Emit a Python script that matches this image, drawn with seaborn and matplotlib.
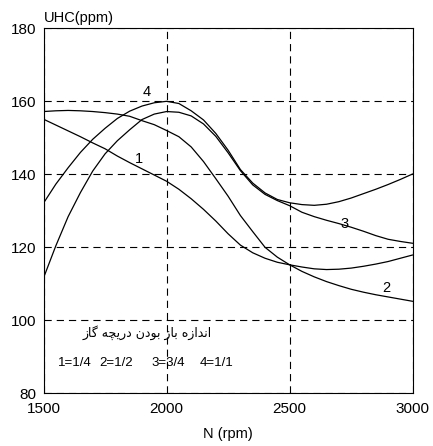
import numpy as np
import pandas as pd
import matplotlib
matplotlib.use("Agg")
import matplotlib.pyplot as plt
import seaborn as sns

# ---- data ----
rpm = [1500, 1550, 1600, 1650, 1700, 1750, 1800, 1850, 1900, 1950, 2000,
       2050, 2100, 2150, 2200, 2250, 2300, 2350, 2400, 2450, 2500,
       2550, 2600, 2650, 2700, 2750, 2800, 2850, 2900, 2950, 3000]

uhc_1 = [155.1, 153.5, 151.9, 150.3, 148.6, 147.0, 145.0, 143.2, 141.5, 139.8, 138.1,
         135.9, 133.3, 130.4, 127.2, 123.7, 120.6, 118.5, 117.0, 115.9, 115.2,
         114.6, 114.1, 113.9, 114.0, 114.3, 114.8, 115.4, 116.1, 117.0, 117.9]
uhc_2 = [157.2, 157.4, 157.5, 157.4, 157.2, 156.9, 156.5, 155.9, 154.7, 153.6, 152.0,
         150.3, 147.5, 143.5, 138.8, 134.0, 128.7, 124.3, 120.0, 117.3, 115.2,
         113.4, 111.9, 110.6, 109.5, 108.5, 107.7, 107.0, 106.4, 105.8, 105.2]
uhc_3 = [111.6, 120.4, 128.4, 135.0, 140.9, 145.6, 149.2, 152.2, 155.0, 156.5, 157.2,
         157.0, 156.0, 153.8, 150.4, 145.9, 141.0, 137.1, 134.5, 132.8, 131.4,
         129.6, 128.4, 127.4, 126.5, 125.5, 124.4, 123.2, 122.2, 121.6, 121.1]
uhc_4 = [132.1, 137.3, 141.8, 146.0, 149.6, 152.6, 155.3, 157.3, 158.7, 159.6, 160.0,
         159.4, 157.4, 154.9, 151.2, 146.6, 141.3, 137.6, 134.9, 133.1, 132.2,
         131.7, 131.5, 131.8, 132.5, 133.5, 134.7, 135.9, 137.2, 138.6, 140.1]

curve_names = ["1", "2", "3", "4"]
x_ticks = [1500, 2000, 2500, 3000]
y_ticks = [80, 100, 120, 140, 160, 180]
legend_title = "اندازه باز بودن دریچه گاز"
legend_items = ["1=1/4", "2=1/2", "3=3/4", "4=1/1"]
x_label = "N (rpm)"
y_label = "UHC(ppm)"

# ---- minimal Persian shaping (presentation forms, visual order) ----
FORMS = {
    'ا': (0xFE8D, 0xFE8E, None, None),
    'ب': (0xFE8F, 0xFE90, 0xFE91, 0xFE92),
    'د': (0xFEA9, 0xFEAA, None, None),
    'ر': (0xFEAD, 0xFEAE, None, None),
    'ز': (0xFEAF, 0xFEB0, None, None),
    'و': (0xFEED, 0xFEEE, None, None),
    'ن': (0xFEE5, 0xFEE6, 0xFEE7, 0xFEE8),
    'ه': (0xFEE9, 0xFEEA, 0xFEEB, 0xFEEC),
    'ی': (0xFEF1, 0xFEF2, 0xFEF3, 0xFEF4),
    'چ': (0xFB7A, 0xFB7B, 0xFB7C, 0xFB7D),
    'گ': (0xFB92, 0xFB93, 0xFB94, 0xFB95),
}


def shape_word(word):
    out = []
    for i, ch in enumerate(word):
        f = FORMS[ch]
        prev_j = i > 0 and FORMS[word[i - 1]][2] is not None
        next_j = i < len(word) - 1 and f[2] is not None
        if prev_j and next_j:
            c = f[3]
        elif prev_j:
            c = f[1]
        elif next_j:
            c = f[2]
        else:
            c = f[0]
        out.append(chr(c))
    return "".join(reversed(out))


def shape(text):
    return " ".join(shape_word(w) for w in reversed(text.split()))


# ---- build long-form table ----
frames = []
for name, vals in zip(curve_names, [uhc_1, uhc_2, uhc_3, uhc_4]):
    frames.append(pd.DataFrame({"N": rpm, "UHC": vals, "curve": name}))
df = pd.concat(frames, ignore_index=True)

sns.set_style("white")
plt.rcParams["font.family"] = ["Liberation Sans", "DejaVu Sans"]
plt.rcParams["text.color"] = "black"
plt.rcParams["axes.labelcolor"] = "black"
plt.rcParams["xtick.color"] = "black"
plt.rcParams["ytick.color"] = "black"

fig = plt.figure(figsize=(4.33, 4.46), dpi=100)
ax = fig.add_axes([0.1005, 0.1182, 0.8526, 0.8183])

sns.lineplot(data=df, x="N", y="UHC", hue="curve", palette=["black"] * 4,
             legend=False, linewidth=0.9, ax=ax, zorder=3)

ax.set_xlim(1500, 3000)
ax.set_ylim(80, 180)
ax.set_xticks(x_ticks)
ax.set_yticks(y_ticks)
ax.grid(True, color="black", linestyle=(0, (6.5, 4.5)), linewidth=0.8, zorder=4)
ax.set_axisbelow(False)
for s in ax.spines.values():
    s.set_color("black")
    s.set_linewidth(0.8)
    s.set_visible(True)
ax.tick_params(axis="both", length=0, labelsize=11, colors="black")
ax.tick_params(axis="x", pad=6.5)
ax.tick_params(axis="y", pad=5.5)
ax.set_xlabel(x_label, fontsize=10.5, labelpad=8, color="black")
ax.set_ylabel("")
ax.text(0.0, 1.01, y_label, transform=ax.transAxes, ha="left", va="bottom",
        fontsize=10.5, color="black")

# curve labels
ax.text(1920, 162.6, "4", fontsize=10.5, ha="center", va="center", color="black")
ax.text(1888, 144.2, "1", fontsize=10.5, ha="center", va="center", color="black")
ax.text(2724, 126.4, "3", fontsize=10.5, ha="center", va="center", color="black")
ax.text(2893, 108.8, "2", fontsize=10.5, ha="center", va="center", color="black")

# throttle legend
ax.text(1920, 96.6, shape(legend_title), fontsize=9, ha="center", va="center",
        family=["DejaVu Sans"], color="black")
for xpos, item in zip([1627, 1794, 2006, 2203], legend_items):
    ax.text(xpos, 88.4, item, fontsize=9.5, ha="center", va="center", color="black")

fig.savefig("out.png", dpi=100)
